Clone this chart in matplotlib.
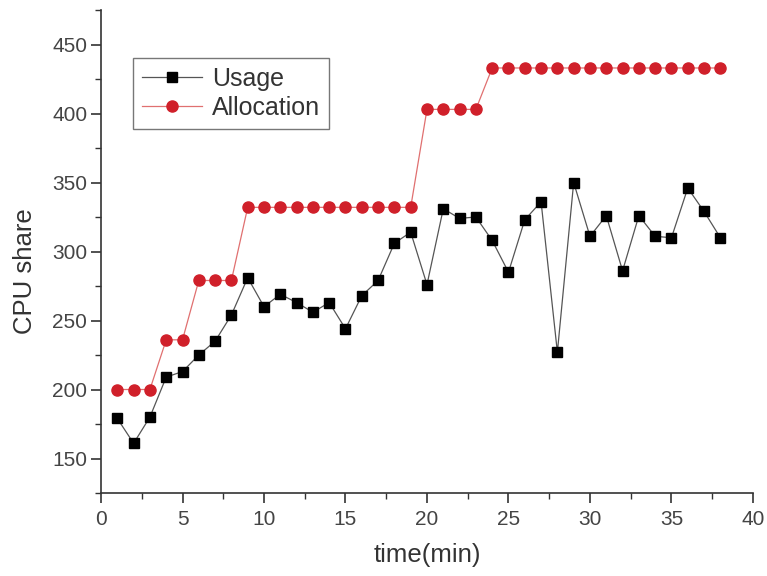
import numpy as np
import matplotlib.pyplot as plt
from matplotlib.ticker import MultipleLocator

plt.rcParams['font.family'] = ['Liberation Sans', 'DejaVu Sans']

time_min = list(range(1, 39))
usage = [179, 161, 180, 209, 213, 225, 235, 254, 281, 260,
         269, 263, 256, 263, 244, 268, 279, 306, 314, 276,
         331, 324, 325, 308, 285, 323, 336, 227, 350, 311,
         326, 286, 326, 311, 310, 346, 329, 310]
allocation = [200, 200, 200, 236, 236, 279, 279, 279, 332, 332,
              332, 332, 332, 332, 332, 332, 332, 332, 332, 403,
              403, 403, 403, 433, 433, 433, 433, 433, 433, 433,
              433, 433, 433, 433, 433, 433, 433, 433]

fig = plt.figure(figsize=(7.67, 5.76), dpi=100)
ax = fig.add_axes([0.1317, 0.1441, 0.85, 0.8385])

red = '#d0202a'
ax.plot(time_min, usage, color='#555555', lw=0.9, marker='s', ms=7.5,
        mfc='black', mec='black', label='Usage', zorder=3)
ax.plot(time_min, allocation, color='#e07070', lw=0.9, marker='o', ms=8,
        mfc=red, mec=red, label='Allocation', zorder=2)

ax.set_xlim(0, 40)
ax.set_ylim(125, 475)
ax.xaxis.set_major_locator(MultipleLocator(5))
ax.xaxis.set_minor_locator(MultipleLocator(2.5))
ax.yaxis.set_major_locator(MultipleLocator(50))
ax.yaxis.set_minor_locator(MultipleLocator(25))
ax.set_yticks([150, 200, 250, 300, 350, 400, 450])

for s in ['top', 'right']:
    ax.spines[s].set_visible(False)
for s in ['left', 'bottom']:
    ax.spines[s].set_color('#333333')
    ax.spines[s].set_linewidth(1.2)

ax.tick_params(which='major', direction='out', length=7, width=1.2,
               color='#333333', labelsize=15, labelcolor='#444444', pad=3)
ax.tick_params(axis='x', which='major', pad=5)
ax.tick_params(which='minor', direction='out', length=4, width=1.0,
               color='#333333')

ax.set_xlabel('time(min)', fontsize=18.5, color='#333333', labelpad=10)
ax.set_ylabel('CPU share', fontsize=18.5, color='#333333')
ax.yaxis.set_label_coords(-0.098, 0.46)

leg = ax.legend(loc='upper left', bbox_to_anchor=(0.049, 0.9), fontsize=18,
                frameon=True, fancybox=False, edgecolor='#555555',
                handlelength=2.4, handletextpad=0.4, borderpad=0.35,
                labelspacing=0.2, borderaxespad=0)
leg.get_frame().set_linewidth(1.0)
for t in leg.get_texts():
    t.set_color('#333333')

fig.savefig('out.png', dpi=100)
plt.close(fig)
